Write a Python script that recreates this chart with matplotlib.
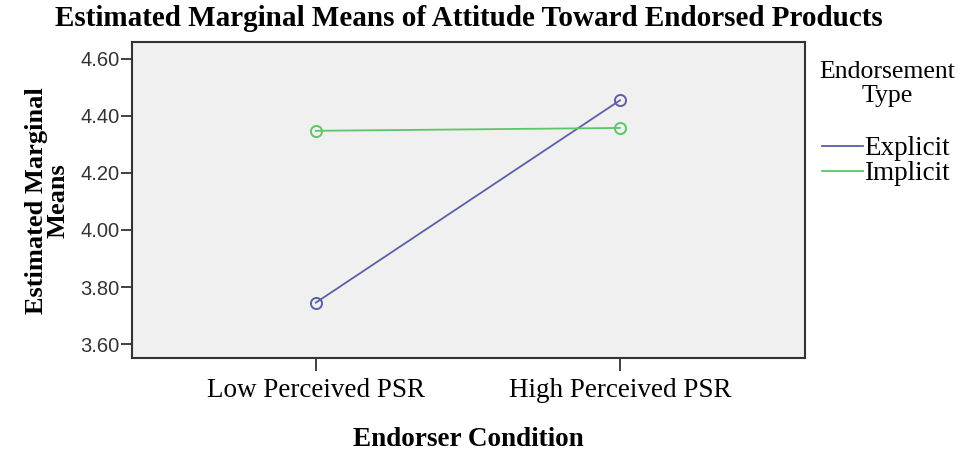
import matplotlib

matplotlib.use("Agg")
import matplotlib.pyplot as plt

# data
categories = ["Low Perceived PSR", "High Perceived PSR"]
explicit_means = [3.745, 4.455]
implicit_means = [4.348, 4.358]
y_ticks = [3.60, 3.80, 4.00, 4.20, 4.40, 4.60]
series_names = ["Explicit", "Implicit"]
legend_title = "Endorsement\nType"

SERIF = "Liberation Serif"
SANS = "Liberation Sans"

fig = plt.figure(figsize=(9.64, 4.54), dpi=100)
ax = fig.add_axes([0.137, 0.2115, 0.698, 0.695])
ax.set_facecolor("#f0f0f0")

x = list(range(len(categories)))
ax.plot(x, explicit_means, color="#5b5fa6", lw=1.3, marker="o", ms=8,
        mfc="none", mew=1.4, label=series_names[0])
ax.plot(x, implicit_means, color="#5ec566", lw=1.3, marker="o", ms=8,
        mfc="none", mew=1.4, label=series_names[1])

ax.set_xlim(-0.604, 1.608)
ax.set_ylim(3.551, 4.658)
ax.set_xticks(x)
ax.set_xticklabels(categories, fontfamily=SERIF, fontsize=19.5)
ax.set_yticks(y_ticks)
ax.set_yticklabels([f"{v:.2f}" for v in y_ticks], fontfamily=SANS, fontsize=14.5,
                   color="#333333")
ax.tick_params(axis="x", direction="out", length=9.5, width=1.3, color="#333333", pad=5)
ax.tick_params(axis="y", direction="out", length=8, width=1.3, color="#333333", pad=1)
for s in ax.spines.values():
    s.set_color("#333333")
    s.set_linewidth(1.5)

ax.set_title("Estimated Marginal Means of Attitude Toward Endorsed Products",
             fontfamily=SERIF, fontweight="bold", fontsize=21, pad=12)
ax.set_ylabel("Estimated Marginal\nMeans", fontfamily=SERIF, fontweight="bold",
              fontsize=19, linespacing=0.9, labelpad=8)
ax.set_xlabel("Endorser Condition", fontfamily=SERIF, fontweight="bold",
              fontsize=19.5, labelpad=17)

# legend title drawn separately so the gap above the entries can match
fig.text(887 / 964, 1 - 84 / 454, legend_title, ha="center", va="center",
         multialignment="center", fontfamily=SERIF, fontsize=18.5, linespacing=1.15)
leg = ax.legend(loc="upper left", bbox_to_anchor=(822 / 964, 1 - 136 / 454),
                bbox_transform=fig.transFigure, frameon=False,
                prop={"family": SERIF, "size": 19.5}, handlelength=1.5,
                handletextpad=0.05, labelspacing=0.0, borderpad=0, borderaxespad=0)
for h in leg.legend_handles:
    h.set_marker("")

fig.savefig("out.png", dpi=100)
